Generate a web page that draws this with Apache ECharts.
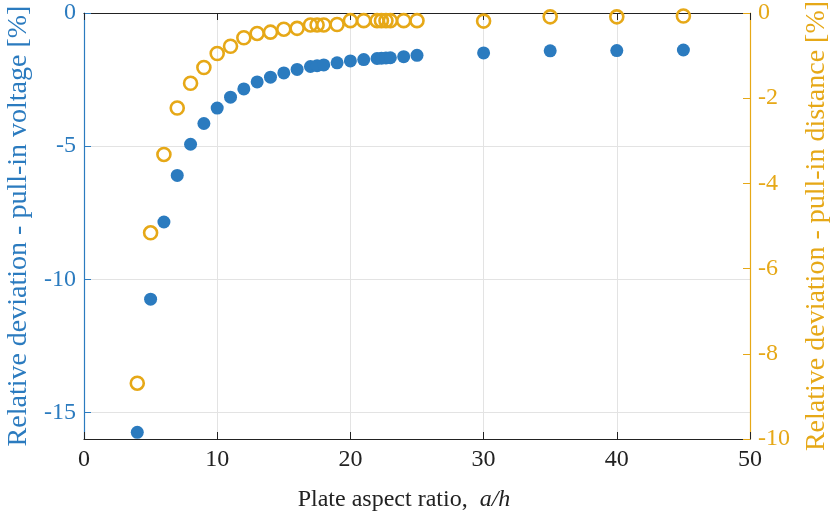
<!DOCTYPE html>
<html>
<head>
<meta charset="utf-8">
<script src="https://cdn.jsdelivr.net/npm/echarts@6/dist/echarts.min.js"></script>
<style>
html,body{margin:0;padding:0;background:#fff;}
#chart{width:832px;height:519px;}
</style>
</head>
<body>
<div id="chart"></div>
<script>
// Plate aspect ratio a/h
var aspectRatio = [4,5,6,7,8,9,10,11,12,13,14,15,16,17,17.5,18,19,20,21,22,22.33,22.67,23,24,25,30,35,40,45];
// Relative deviation - pull-in voltage [%] (left axis)
var voltageDev = [-15.75,-10.75,-7.85,-6.1,-4.93,-4.15,-3.57,-3.16,-2.85,-2.59,-2.41,-2.25,-2.12,-2.01,-1.98,-1.95,-1.87,-1.80,-1.75,-1.71,-1.70,-1.69,-1.68,-1.64,-1.59,-1.50,-1.42,-1.41,-1.39];
// Relative deviation - pull-in distance [%] (right axis)
var distanceDev = [-8.69,-5.16,-3.32,-2.23,-1.65,-1.28,-0.95,-0.78,-0.58,-0.48,-0.45,-0.38,-0.36,-0.28,-0.28,-0.28,-0.27,-0.18,-0.18,-0.18,-0.18,-0.18,-0.18,-0.18,-0.18,-0.19,-0.09,-0.09,-0.07];
var leftTicks = [-15,-10,-5,0];
var rightTicks = [-10,-8,-6,-4,-2,0];
var xTicks = [0,10,20,30,40,50];

var BLUE = '#2b7bbf';
var ORANGE = '#e6a817';
var FONT = '"Liberation Serif", "Times New Roman", serif';

var chart = echarts.init(document.getElementById('chart'), null, {renderer:'canvas'});
var vData = aspectRatio.map(function(x,i){return [x, voltageDev[i]];});
var dData = aspectRatio.map(function(x,i){return [x, distanceDev[i]];});

chart.setOption({
  animation:false,
  backgroundColor:'#fff',
  grid:{left:84, right:82, top:13, bottom:80, containLabel:false, outerBoundsMode:'none'},
  xAxis:[{
    type:'value', min:0, max:50, interval:10, position:'bottom',
    name:'{n|Plate aspect ratio,  }{i|a/h}', nameLocation:'middle', nameGap:49,
    nameTextStyle:{padding:[0,26,0,0],rich:{n:{fontFamily:FONT,fontSize:24,color:'#222'},i:{fontFamily:FONT,fontSize:24,fontStyle:'italic',color:'#222'}}},
    axisLine:{show:true,onZero:false,lineStyle:{color:'#222',width:1.2}},
    axisTick:{show:true,inside:true,length:7,lineStyle:{color:'#222'}},
    axisLabel:{fontFamily:FONT,fontSize:24,color:'#222',margin:9,
      formatter:function(v){return xTicks.indexOf(v)>=0?String(v):'';}},
    splitLine:{show:true,lineStyle:{color:'#e3e3e3',width:1}}
  },{
    type:'value', min:0, max:50, interval:10, position:'top',
    axisLine:{show:true,onZero:false,lineStyle:{color:'#222',width:1.2}},
    axisTick:{show:true,inside:true,length:7,lineStyle:{color:'#222'}},
    axisLabel:{show:false}, splitLine:{show:false}
  }],
  yAxis:[{
    type:'value', min:-16, max:0, position:'left',
    name:'Relative deviation - pull-in voltage [%]', nameLocation:'middle', nameRotate:90, nameGap:46,
    nameTextStyle:{fontFamily:FONT,fontSize:28,color:BLUE},
    axisLine:{show:true,onZero:false,lineStyle:{color:BLUE,width:1.2}},
    axisTick:{show:true,inside:true,length:7,lineStyle:{color:BLUE},customValues:leftTicks},
    axisLabel:{fontFamily:FONT,fontSize:24,color:BLUE,margin:8,customValues:leftTicks},
    splitLine:{show:true,lineStyle:{color:'#e3e3e3',width:1}}
  },{
    type:'value', min:-10, max:0, interval:2, position:'right',
    name:'Relative deviation - pull-in distance [%]', nameLocation:'middle', nameRotate:90, nameGap:53,
    nameTextStyle:{fontFamily:FONT,fontSize:28,color:ORANGE},
    axisLine:{show:true,onZero:false,lineStyle:{color:ORANGE,width:1.2}},
    axisTick:{show:true,inside:true,length:7,lineStyle:{color:ORANGE}},
    axisLabel:{fontFamily:FONT,fontSize:24,color:ORANGE,margin:8,
      formatter:function(v){return rightTicks.indexOf(v)>=0?String(v):'';}},
    splitLine:{show:false}
  }],
  series:[{
    type:'scatter', xAxisIndex:0, yAxisIndex:0, data:vData, symbol:'circle', symbolSize:13,
    itemStyle:{color:BLUE, opacity:1}, clip:false, z:3
  },{
    type:'scatter', xAxisIndex:0, yAxisIndex:1, data:dData, symbol:'circle', symbolSize:13,
    itemStyle:{color:'rgba(255,255,255,0)', borderColor:ORANGE, borderWidth:2.6, opacity:1}, clip:false, z:4
  }]
});
</script>
</body>
</html>
